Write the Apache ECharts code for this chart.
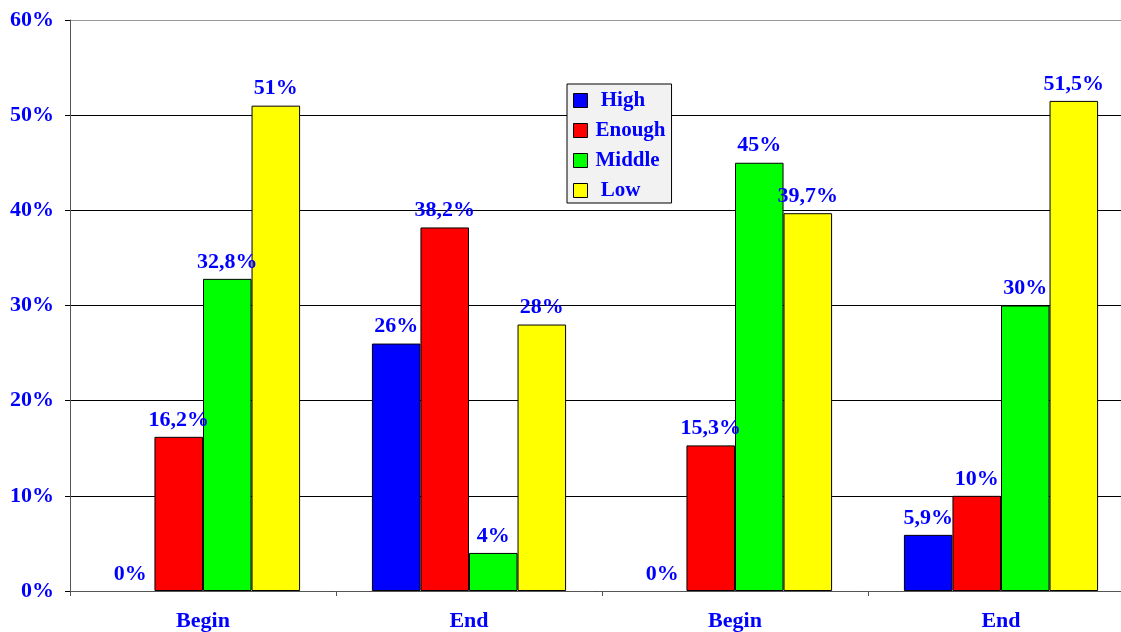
<!DOCTYPE html>
<html>
<head>
<meta charset="utf-8">
<script src="https://cdn.jsdelivr.net/npm/echarts@6/dist/echarts.min.js"></script>
<style>html,body{margin:0;padding:0;background:#fff;overflow:hidden}#c{width:1121px;height:632px}</style>
</head>
<body>
<div id="c"></div>
<script>
var categories = ['Begin', 'End', 'Begin', 'End'];
var high = [0, 26, 0, 5.9];
var enough = [16.2, 38.2, 15.3, 10];
var middle = [32.8, 4, 45, 30];
var low = [51, 28, 39.7, 51.5];
var seriesNames = ['High', 'Enough', 'Middle', 'Low'];
var seriesColors = ['#0000ff', '#ff0000', '#00ff00', '#ffff00'];
var seriesData = [high, enough, middle, low];

var font = '"Liberation Serif", "Times New Roman", serif';
var blue = '#0000ff';

var chart = echarts.init(document.getElementById('c'));
chart.setOption({
  animation: false,
  backgroundColor: '#ffffff',
  grid: { left: 70, width: 1064, top: 20, bottom: 41, outerBoundsMode: 'none', containLabel: false },
  legend: {
    orient: 'vertical',
    left: 567, top: 84,
    padding: [6, 6, 2, 6],
    backgroundColor: '#f2f2f2',
    borderColor: '#000000',
    borderWidth: 1,
    itemWidth: 14, itemHeight: 14,
    itemGap: 9,
    icon: 'rect',
    itemStyle: { borderColor: '#000', borderWidth: 1 },
    textStyle: { color: blue, fontFamily: font, fontWeight: 'bold', fontSize: 21, padding: [0, 0, 0, 3] },
    formatter: function (name) { return name.length <= 4 ? ' ' + name : name; },
    data: seriesNames
  },
  xAxis: {
    type: 'category',
    data: categories,
    axisLine: { lineStyle: { color: '#555555', width: 1 } },
    axisTick: { show: true, length: 5, lineStyle: { color: '#555555' } },
    axisLabel: { color: blue, fontFamily: font, fontWeight: 'bold', fontSize: 22, margin: 19 }
  },
  yAxis: {
    type: 'value',
    min: 0, max: 60, interval: 10,
    axisLine: { show: true, lineStyle: { color: '#555555', width: 1 } },
    axisTick: { show: true, length: 5, lineStyle: { color: '#000' } },
    axisLabel: { color: blue, fontFamily: font, fontWeight: 'bold', fontSize: 22, margin: 16, formatter: '{value}%' },
    splitLine: { show: true, lineStyle: { color: ['#000', '#000', '#000', '#000', '#000', '#000', '#999'], width: 1 } }
  },
  series: seriesNames.map(function (name, i) {
    return {
      name: name,
      type: 'bar',
      data: seriesData[i].map(function (v) {
        return v === 0 ? { value: v, itemStyle: { borderWidth: 0 } } : v;
      }),
      barGap: '0%',
      barCategoryGap: '27%',
      itemStyle: { color: seriesColors[i], borderColor: '#000', borderWidth: 1 },
      label: {
        show: true,
        position: 'top',
        distance: 6,
        color: blue,
        fontFamily: font,
        fontWeight: 'bold',
        fontSize: 22,
        formatter: function (p) { return String(p.value).replace('.', ',') + '%'; }
      }
    };
  })
});
</script>
</body>
</html>
